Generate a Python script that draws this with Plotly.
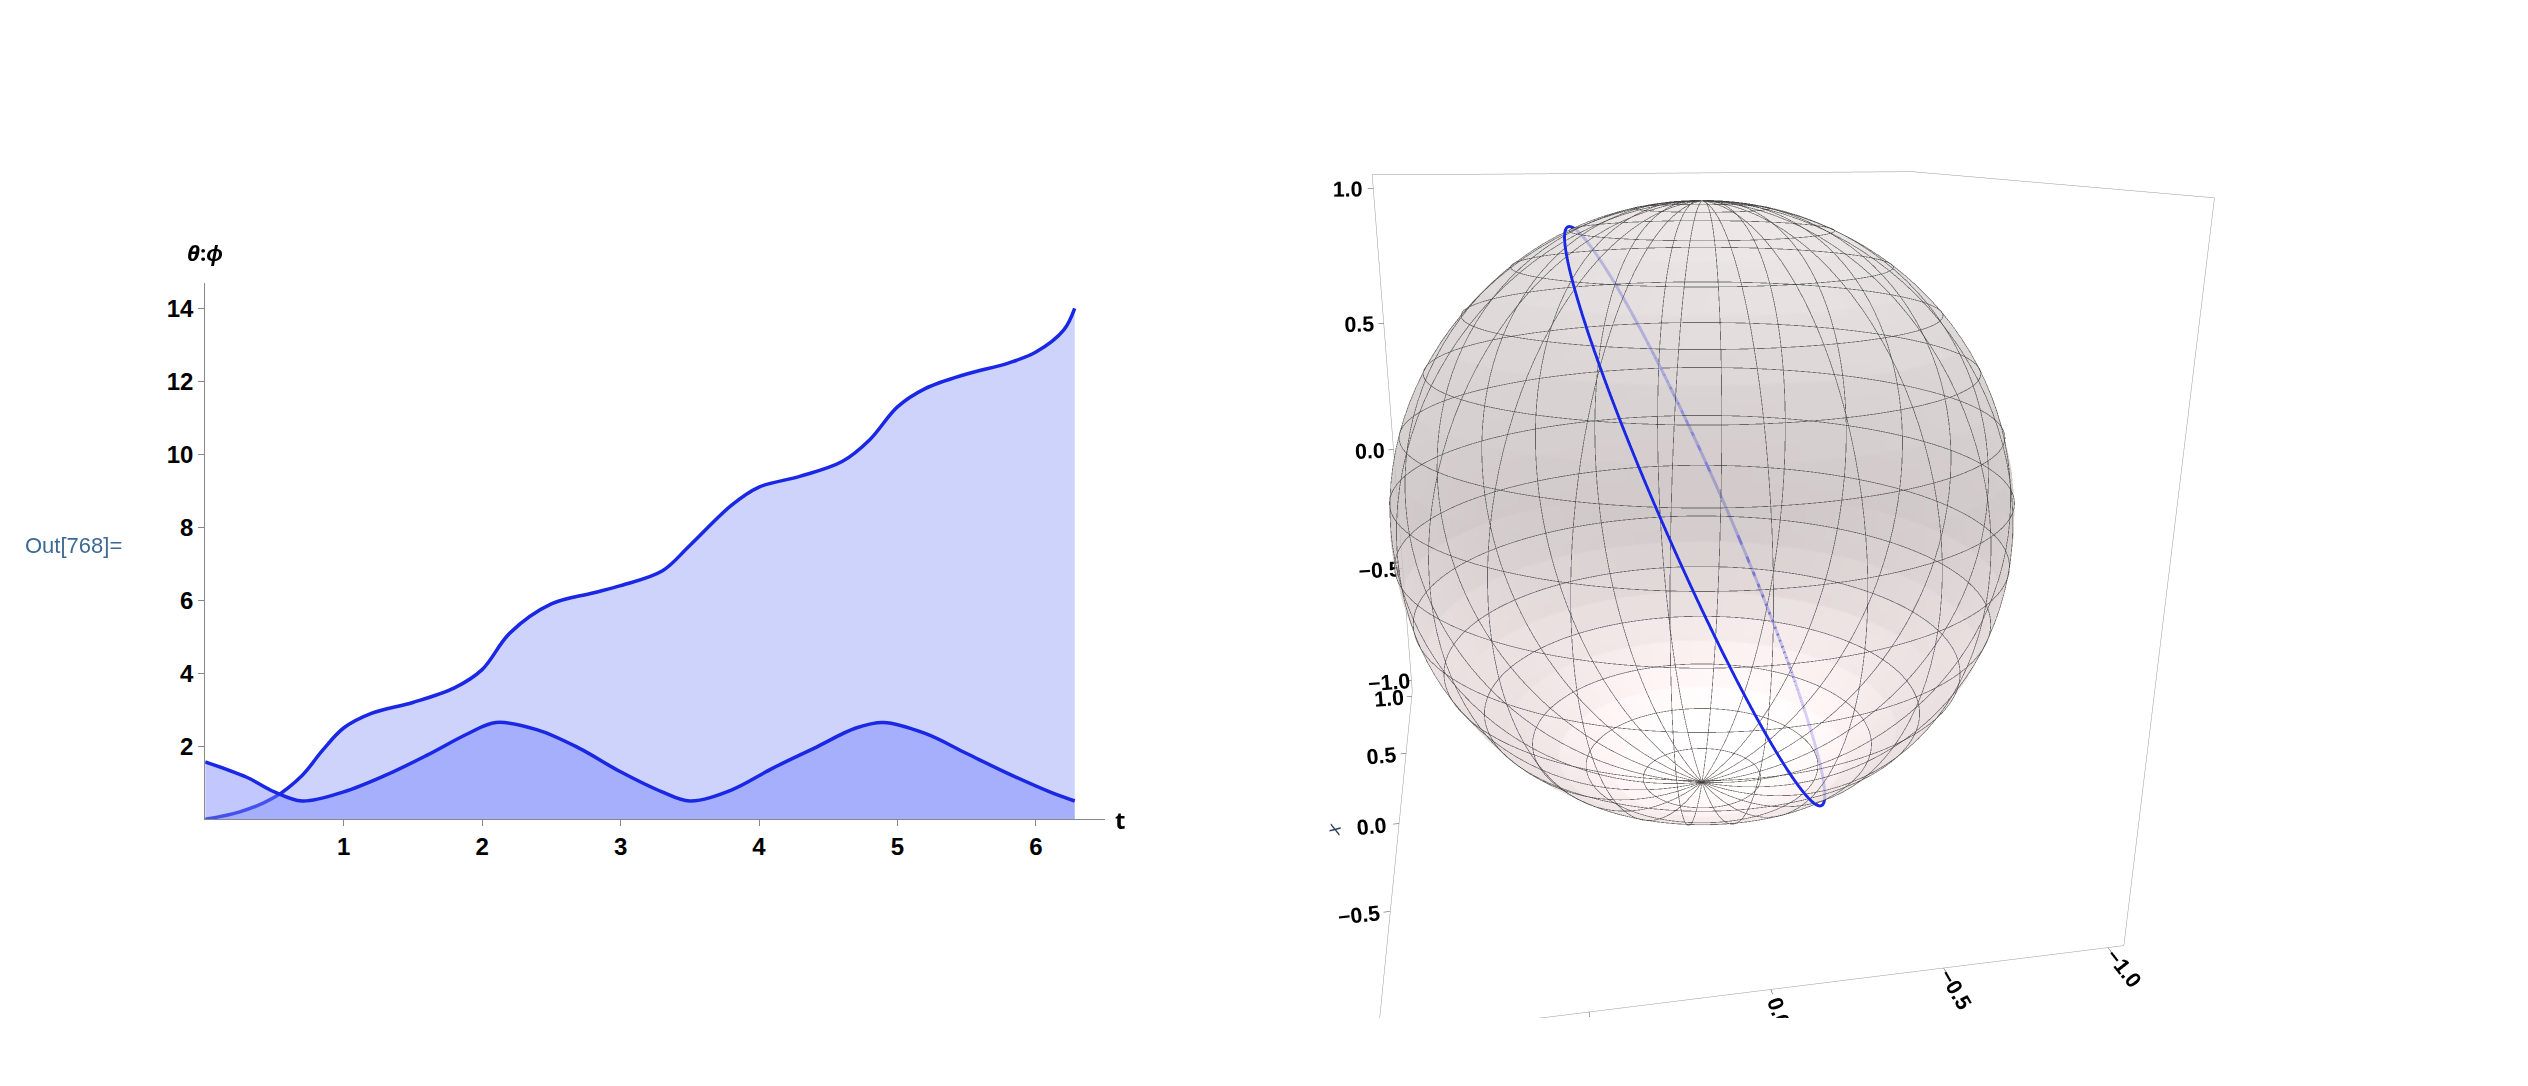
import numpy as np
import plotly.graph_objects as go

t_phi = [0, 0.25, 0.5, 0.7, 0.85, 1.0, 1.2, 1.5, 1.8, 2.0, 2.2, 2.5, 2.8, 3.0, 3.3, 3.5, 3.8, 4.0, 4.3, 4.6, 4.8, 5.0, 5.2, 5.5, 5.8, 6.0, 6.2, 6.28]
phi   = [0, 0.2, 0.6, 1.2, 1.9, 2.5, 2.9, 3.2, 3.6, 4.1, 5.1, 5.9, 6.2, 6.4, 6.8, 7.5, 8.6, 9.1, 9.4, 9.8, 10.4, 11.3, 11.8, 12.2, 12.5, 12.8, 13.4, 14.0]
t_th  = [0, 0.3, 0.5, 0.7, 1.0, 1.3, 1.6, 1.9, 2.1, 2.4, 2.7, 3.0, 3.3, 3.5, 3.8, 4.1, 4.4, 4.7, 4.9, 5.2, 5.5, 5.8, 6.1, 6.28]
theta = [1.57, 1.15, 0.75, 0.5, 0.75, 1.2, 1.75, 2.35, 2.65, 2.45, 1.95, 1.3, 0.75, 0.5, 0.8, 1.4, 1.95, 2.5, 2.65, 2.35, 1.8, 1.25, 0.75, 0.5]

xticks = [1, 2, 3, 4, 5, 6]
yticks = [2, 4, 6, 8, 10, 12, 14]
ticks3d = [-1.0, -0.5, 0.0, 0.5, 1.0]
tick3d_text = ["−1.0", "−0.5", "0.0", "0.5", "1.0"]
loop_normal = [0.14, 0.90, -0.41]

blue = "#1a28e6"
fnt = dict(size=24, color="black", family="Liberation Sans", weight="bold")
fig = go.Figure()
fig.add_trace(go.Scatter(x=t_phi, y=phi, mode="lines", line=dict(color=blue, width=3.5, shape="spline"),
                         fill="tozeroy", fillcolor="rgba(205,211,251,1)", showlegend=False))
fig.add_trace(go.Scatter(x=t_th, y=theta, mode="lines", line=dict(color=blue, width=3.5, shape="spline"),
                         fill="tozeroy", fillcolor="rgba(120,130,250,0.45)", showlegend=False))

# sphere
u = np.linspace(0, 2*np.pi, 61)
v = np.linspace(0, np.pi, 31)
X = np.outer(np.cos(u), np.sin(v)); Y = np.outer(np.sin(u), np.sin(v)); Z = np.outer(np.ones_like(u), np.cos(v))
fig.add_trace(go.Surface(x=X, y=Y, z=Z, colorscale=[[0, "#f3e4e4"], [1, "#f7efef"]], showscale=False, opacity=0.55,
                         lighting=dict(ambient=0.8, diffuse=0.4, specular=0.2), hoverinfo="skip"))
lx, ly, lz = [], [], []
s = np.linspace(0, 2*np.pi, 121)
for k in range(1, 15):
    th = k*np.pi/15
    lx += list(np.sin(th)*np.cos(s)) + [None]; ly += list(np.sin(th)*np.sin(s)) + [None]; lz += list(np.cos(th)*np.ones_like(s)) + [None]
w = np.linspace(0, np.pi, 61)
for k in range(24):
    p = k*2*np.pi/24
    lx += list(np.sin(w)*np.cos(p)) + [None]; ly += list(np.sin(w)*np.sin(p)) + [None]; lz += list(np.cos(w)) + [None]
fig.add_trace(go.Scatter3d(x=lx, y=ly, z=lz, mode="lines", line=dict(color="rgba(40,40,40,0.7)", width=1.5),
                           hoverinfo="skip", showlegend=False))
n = np.array(loop_normal); n = n/np.linalg.norm(n)
a = np.cross(n, [0, 0, 1]); a /= np.linalg.norm(a); b = np.cross(n, a)
c = np.linspace(0, 2*np.pi, 200)
P = np.outer(np.cos(c), a) + np.outer(np.sin(c), b)
P *= 1.01
fig.add_trace(go.Scatter3d(x=P[:, 0], y=P[:, 1], z=P[:, 2], mode="lines", line=dict(color=blue, width=6), showlegend=False))

ax3 = dict(range=[-1.05, 1.05], tickvals=ticks3d, ticktext=tick3d_text, showbackground=False, showgrid=False, zeroline=False,
           showline=True, linecolor="#999", mirror=True, ticks="outside", tickfont=dict(size=16, color="black", family="Liberation Sans", weight="bold"),
           showspikes=False)
fig.update_layout(
    width=2528, height=1086, paper_bgcolor="white", plot_bgcolor="white", margin=dict(l=0, r=0, t=0, b=0),
    xaxis=dict(domain=[0.078, 0.434], range=[0, 6.5], tickvals=xticks, showgrid=False, zeroline=False, showline=True,
               linecolor="#888", ticks="outside", ticklen=6, tickcolor="#888", tickfont=fnt),
    yaxis=dict(domain=[0.253, 0.747], range=[0, 14.7], tickvals=yticks, showgrid=False, zeroline=False, showline=True,
               linecolor="#888", ticks="outside", ticklen=6, tickcolor="#888", tickfont=fnt),
    scene=dict(domain=dict(x=[0.42, 0.92], y=[0.07, 1.0]), aspectmode="cube",
               xaxis=dict(ax3, title=dict(text="<i>x</i>", font=dict(size=20))),
               yaxis=dict(ax3, title=dict(text="<i>y</i>", font=dict(size=20))),
               zaxis=dict(ax3, title=dict(text="")),
               camera=dict(eye=dict(x=-1.8, y=0.33, z=0.57), up=dict(x=0, y=0, z=1))),
    annotations=[
        dict(text="<b><i>θ</i>:<i>ϕ</i></b>", x=0.078, y=0.76, xref="paper", yref="paper", xanchor="center", yanchor="bottom",
             showarrow=False, font=dict(size=22, color="black")),
        dict(text="<b>t</b>", x=0.437, y=0.253, xref="paper", yref="paper", xanchor="left", yanchor="middle",
             showarrow=False, font=dict(size=24, color="black")),
        dict(text="Out[768]=", x=0.006, y=0.505, xref="paper", yref="paper", xanchor="left", yanchor="middle",
             showarrow=False, font=dict(size=22, color="#3d6a94", family="Liberation Sans")),
    ],
)
fig.write_html("out.html")
